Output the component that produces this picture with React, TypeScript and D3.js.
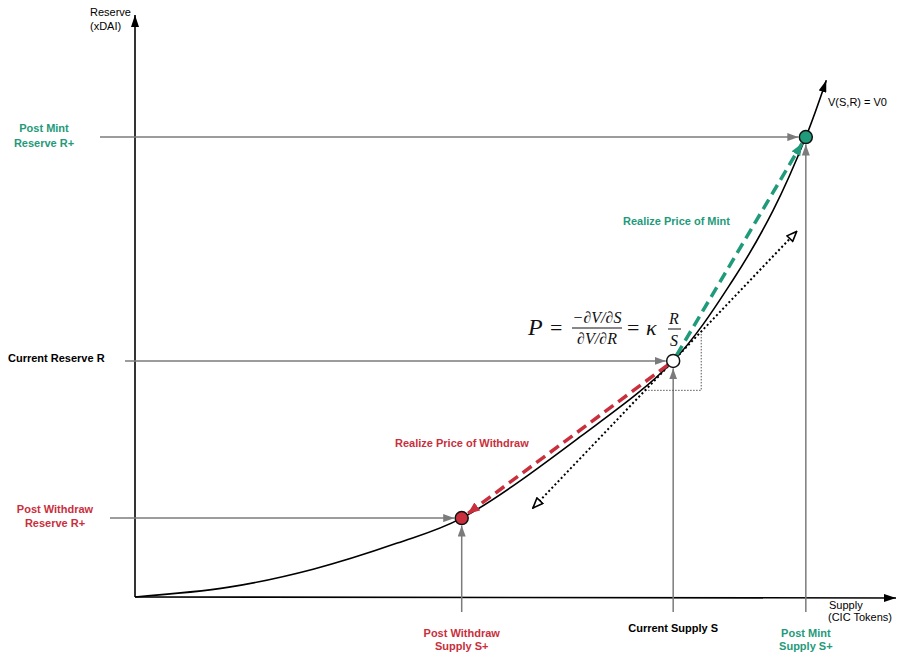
import React from 'react';
import * as d3 from 'd3';

// bonding curve V(S,R) = V0 (supply %, reserve %)
const curveSupply = [0, 12.4, 23.5, 34.6, 43.1, 58.7, 71.0, 78.9, 84.2, 88.5, 91.2];
const curveReserve = [0, 1.7, 4.8, 9.3, 13.6, 27.6, 40.7, 54.7, 66.7, 79.3, 89.1];

// the three states: withdraw, current, mint
const stateNames = ['withdraw', 'current', 'mint'];
const stateSupply = [43.1, 71.0, 88.5];
const stateReserve = [13.6, 40.7, 79.3];

// tangent at the current point
const tangentSlope = 1.37;
const tangentSpan = [-18.5, 16.3];
const slopeBox = [-3.7, 3.7];

const TEAL = '#1f9a7a';
const RED = '#c92f3c';
const GRAY = '#7b7b7b';
const SANS = '"Liberation Sans", Arial, sans-serif';
const SERIF = '"Liberation Serif", "Times New Roman", serif';

const W = 897;
const H = 652;

const x = d3.scaleLinear().domain([0, 100]).range([135, 893]);
const y = d3.scaleLinear().domain([0, 100]).range([597, 17]);

// pull the end of a segment back by d pixels
const shorten = (x1: number, y1: number, x2: number, y2: number, d: number) => {
  const len = Math.hypot(x2 - x1, y2 - y1);
  return [x2 - ((x2 - x1) / len) * d, y2 - ((y2 - y1) / len) * d];
};

const App = () => {
  const line = d3.line<[number, number]>()
    .x(d => x(d[0]))
    .y(d => y(d[1]))
    .curve(d3.curveCatmullRom.alpha(0.5));
  const curvePts = curveSupply.map((s, i) => [s, curveReserve[i]] as [number, number]);

  const px = stateSupply.map(s => x(s));
  const py = stateReserve.map(r => y(r));
  const r = 6.5;

  const [ws, cur, mt] = [0, 1, 2];

  // tangent ends
  const s0 = stateSupply[cur], r0 = stateReserve[cur];
  const tA: [number, number] = [s0 + tangentSpan[0], r0 + tangentSpan[0] * tangentSlope];
  const tB: [number, number] = [s0 + tangentSpan[1], r0 + tangentSpan[1] * tangentSlope];
  const bA: [number, number] = [s0 + slopeBox[0], r0 + slopeBox[0] * tangentSlope];
  const bB: [number, number] = [s0 + slopeBox[1], r0 + slopeBox[1] * tangentSlope];

  // dashed realize-price arrows
  const [mintX, mintY] = shorten(px[cur], py[cur], px[mt], py[mt], r + 1);
  const [wdX, wdY] = shorten(px[cur], py[cur], px[ws], py[ws], r + 1);
  const [mS0x, mS0y] = shorten(px[mt], py[mt], px[cur], py[cur], r);
  const [wS0x, wS0y] = shorten(px[ws], py[ws], px[cur], py[cur], r);

  const hStart = [110, 125, 100];
  const vStart = 612;
  const fills = [RED, '#ffffff', TEAL];

  const txt = { fontFamily: SANS, fontSize: 11 } as const;
  const bold = { fontFamily: SANS, fontSize: 11, fontWeight: 700 } as const;

  return (
    <svg width={W} height={H} style={{ position: 'absolute', left: 0, top: 0, background: '#fff' }}>
      <defs>
        <marker id="arrBlack" viewBox="0 0 12 8" refX="12" refY="4" markerWidth="12" markerHeight="8"
          markerUnits="userSpaceOnUse" orient="auto">
          <path d="M0,0L12,4L0,8z" fill="#000" />
        </marker>
        <marker id="arrGray" viewBox="0 0 11 8" refX="11" refY="4" markerWidth="11" markerHeight="8"
          markerUnits="userSpaceOnUse" orient="auto">
          <path d="M0,0L11,4L0,8z" fill={GRAY} />
        </marker>
        <marker id="arrTeal" viewBox="0 0 12 10" refX="12" refY="5" markerWidth="12" markerHeight="10"
          markerUnits="userSpaceOnUse" orient="auto">
          <path d="M0,0L12,5L0,10z" fill={TEAL} />
        </marker>
        <marker id="arrRed" viewBox="0 0 12 10" refX="12" refY="5" markerWidth="12" markerHeight="10"
          markerUnits="userSpaceOnUse" orient="auto">
          <path d="M0,0L12,5L0,10z" fill={RED} />
        </marker>
        <marker id="arrOpen" viewBox="-1 -1 12 10" refX="10" refY="4" markerWidth="12" markerHeight="10"
          markerUnits="userSpaceOnUse" orient="auto-start-reverse">
          <path d="M0,0L10,4L0,8z" fill="#fff" stroke="#000" strokeWidth={1.6} />
        </marker>
      </defs>

      {/* axes */}
      <line x1={x(0)} y1={y(0)} x2={x(0)} y2={15} stroke="#000" strokeWidth={1.6} markerEnd="url(#arrBlack)" />
      <line x1={x(0)} y1={y(0)} x2={896} y2={y(0) + 1} stroke="#000" strokeWidth={1.6} markerEnd="url(#arrBlack)" />
      <text x={90} y={16} style={txt}>Reserve</text>
      <text x={90} y={30} style={txt}>(xDAI)</text>
      <text x={829} y={609} style={txt}>Supply</text>
      <text x={828} y={621} style={txt}>(CIC Tokens)</text>

      {/* guide arrows */}
      {stateNames.map((n, i) => (
        <g key={n}>
          <line x1={hStart[i]} y1={py[i]} x2={px[i] - r - 1} y2={py[i]} stroke={GRAY} strokeWidth={1.5}
            markerEnd="url(#arrGray)" />
          <line x1={px[i]} y1={vStart} x2={px[i]} y2={py[i] + r + 1} stroke={GRAY} strokeWidth={1.5}
            markerEnd="url(#arrGray)" />
        </g>
      ))}

      {/* slope triangle */}
      <path d={`M${x(bA[0])},${y(bA[1])}H${x(bB[0])}V${y(bB[1])}`} fill="none" stroke="#555" strokeWidth={1}
        strokeDasharray="1.5,1.5" />

      {/* tangent */}
      <line x1={x(tA[0])} y1={y(tA[1])} x2={x(tB[0])} y2={y(tB[1])} stroke="#000" strokeWidth={2}
        strokeDasharray="2,2.5" markerStart="url(#arrOpen)" markerEnd="url(#arrOpen)" />

      {/* curve */}
      <path d={line(curvePts) ?? ''} fill="none" stroke="#000" strokeWidth={1.6} markerEnd="url(#arrBlack)" />

      {/* realize price arrows */}
      <line x1={mS0x} y1={mS0y} x2={mintX} y2={mintY} stroke={TEAL} strokeWidth={3.5} strokeDasharray="11,6"
        markerEnd="url(#arrTeal)" />
      <line x1={wS0x} y1={wS0y} x2={wdX} y2={wdY} stroke={RED} strokeWidth={3.5} strokeDasharray="11,6"
        markerEnd="url(#arrRed)" />

      {/* state points */}
      {stateNames.map((n, i) => (
        <circle key={n} cx={px[i]} cy={py[i]} r={r} fill={fills[i]} stroke="#111" strokeWidth={1.5} />
      ))}

      {/* labels */}
      <text x={44} y={132} textAnchor="middle" fill={TEAL} style={bold}>Post Mint</text>
      <text x={44} y={147} textAnchor="middle" fill={TEAL} style={bold}>Reserve R+</text>
      <text x={8} y={362} style={bold}>Current Reserve R</text>
      <text x={55} y={513} textAnchor="middle" fill={RED} style={bold}>Post Withdraw</text>
      <text x={55} y={527} textAnchor="middle" fill={RED} style={bold}>Reserve R+</text>

      <text x={px[ws]} y={637} textAnchor="middle" fill={RED} style={bold}>Post Withdraw</text>
      <text x={px[ws]} y={650} textAnchor="middle" fill={RED} style={bold}>Supply S+</text>
      <text x={px[cur]} y={632} textAnchor="middle" style={bold}>Current Supply S</text>
      <text x={px[mt]} y={637} textAnchor="middle" fill={TEAL} style={bold}>Post Mint</text>
      <text x={px[mt]} y={650} textAnchor="middle" fill={TEAL} style={bold}>Supply S+</text>

      <text x={623} y={225} fill={TEAL} style={bold}>Realize Price of Mint</text>
      <text x={395} y={447} fill={RED} style={bold}>Realize Price of Withdraw</text>
      <text x={828} y={106} style={txt}>V(S,R) = V0</text>

      {/* price formula */}
      <g fontFamily={SERIF} fill="#111">
        <text x={528} y={335} fontSize={24} fontStyle="italic">P</text>
        <text x={550} y={335} fontSize={22}>=</text>
        <text x={597} y={323} fontSize={16} fontStyle="italic" textAnchor="middle">−∂V/∂S</text>
        <line x1={572} y1={328} x2={622} y2={328} stroke="#111" strokeWidth={1} />
        <text x={597} y={344} fontSize={16} fontStyle="italic" textAnchor="middle">∂V/∂R</text>
        <text x={627} y={335} fontSize={22}>=</text>
        <text x={646} y={335} fontSize={22} fontStyle="italic">κ</text>
        <text x={674} y={324} fontSize={16} fontStyle="italic" textAnchor="middle">R</text>
        <line x1={668} y1={329} x2={681} y2={329} stroke="#111" strokeWidth={1} />
        <text x={674} y={346} fontSize={16} fontStyle="italic" textAnchor="middle">S</text>
      </g>
    </svg>
  );
};

export default App;
